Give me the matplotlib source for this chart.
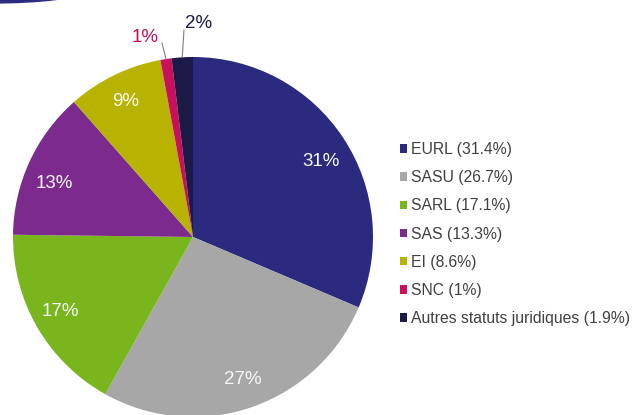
import matplotlib
matplotlib.use("Agg")
import matplotlib.pyplot as plt
from matplotlib.patches import Ellipse, Patch
import numpy as np

plt.rcParams['font.family'] = ['Liberation Sans', 'DejaVu Sans']

categories = ["EURL", "SASU", "SARL", "SAS", "EI", "SNC", "Autres statuts juridiques"]
values = [31.4, 26.7, 17.1, 13.3, 8.6, 1.0, 1.9]
pct_labels = ["31%", "27%", "17%", "13%", "9%", "1%", "2%"]
colors = ["#2b2a7e", "#a7a7a7", "#79b51c", "#7c2a8e", "#b8b200", "#c8105c", "#1c1b47"]

W, H = 632, 415
fig = plt.figure(figsize=(W / 100, H / 100), dpi=100)
ax = fig.add_axes([0, 0, 1, 1])

cx, cy, R = 193, H - 237, 180
wedges, _ = ax.pie(values, colors=colors, startangle=90, counterclock=False,
                   center=(cx, cy), radius=R, frame=True)
ax.set_xlim(0, W)
ax.set_ylim(0, H)
ax.set_aspect("equal")
ax.axis("off")

# small vertical nudges (pixels) of inside labels, as in the original layout
nudge = {0: -9, 1: 2, 2: 2, 3: -10, 4: -2}
for i, w in enumerate(wedges):
    ang = np.deg2rad((w.theta1 + w.theta2) / 2)
    if i < 5:
        r = 0.85 * R
        ax.text(cx + r * np.cos(ang), cy + r * np.sin(ang) + nudge[i], pct_labels[i],
                color="#f8f8f8", fontsize=13.5, ha="center", va="center")
    else:
        ex, ey = cx + R * np.cos(ang), cy + R * np.sin(ang)
        if i == 5:
            tx, ty = 145, H - 37
            lx, ly = 162, H - 43
        else:
            tx, ty = 199, H - 24
            lx, ly = 184, H - 30
        ax.plot([ex, lx], [ey, ly], color="#7f7f7f", lw=0.8)
        ax.text(tx, ty, pct_labels[i], color=colors[i], fontsize=13.5,
                ha="center", va="center")

# decorative corner
ax.add_patch(Ellipse((-10, H + 8), 180, 22, color="#2b2a7e"))

handles = [Patch(facecolor=c, edgecolor="none") for c in colors]
labels = [f"{c} ({v:g}%)" for c, v in zip(categories, values)]
leg = fig.legend(handles, labels, loc="upper left", bbox_to_anchor=(400 / W, 1 - 142 / H),
                 frameon=False, fontsize=11.3, handlelength=0.45, handleheight=0.45,
                 handletextpad=0.28, labelspacing=0.84, borderpad=0, borderaxespad=0)
for t in leg.get_texts():
    t.set_color("#404040")

fig.savefig("out.png", dpi=100)
